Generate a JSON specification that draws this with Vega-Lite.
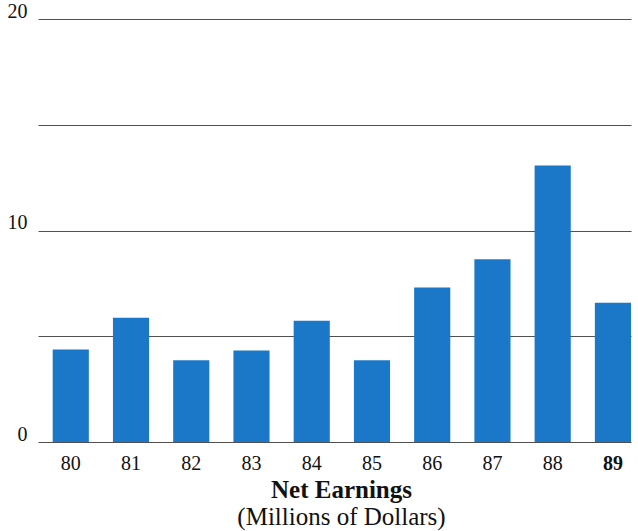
{
  "$schema": "https://vega.github.io/schema/vega-lite/v6.json",
  "autosize": "none",
  "width": 593,
  "height": 423,
  "padding": {"left": 38, "top": 19, "right": 7, "bottom": 89},
  "background": "white",
  "data": {
    "values": [
      {"year": "80", "earnings": 4.37},
      {"year": "81", "earnings": 5.87},
      {"year": "82", "earnings": 3.87},
      {"year": "83", "earnings": 4.33},
      {"year": "84", "earnings": 5.73},
      {"year": "85", "earnings": 3.87},
      {"year": "86", "earnings": 7.31},
      {"year": "87", "earnings": 8.64},
      {"year": "88", "earnings": 13.07},
      {"year": "89", "earnings": 6.58}
    ]
  },
  "title": {
    "text": "Net Earnings",
    "subtitle": "(Millions of Dollars)",
    "orient": "bottom",
    "anchor": "middle",
    "dx": 7,
    "offset": 5,
    "font": "Liberation Serif",
    "fontSize": 25,
    "fontWeight": "bold",
    "color": "#111111",
    "subtitleFont": "Liberation Serif",
    "subtitleFontSize": 25,
    "subtitleFontWeight": "normal",
    "subtitleColor": "#111111",
    "subtitlePadding": 2
  },
  "mark": {"type": "bar", "color": "#1b78c9"},
  "encoding": {
    "x": {
      "field": "year",
      "type": "ordinal",
      "scale": {"paddingInner": 0.4, "paddingOuter": 0.122, "align": 1},
      "axis": {
        "title": null,
        "domain": false,
        "ticks": false,
        "labelAngle": 0,
        "labelPadding": 11,
        "labelFont": "Liberation Serif",
        "labelFontSize": 20,
        "labelColor": "#111111",
        "labelFontWeight": {"condition": {"test": "datum.value == '89'", "value": "bold"}, "value": "normal"}
      }
    },
    "y": {
      "field": "earnings",
      "type": "quantitative",
      "scale": {"domain": [0, 20], "nice": false},
      "axis": {
        "title": null,
        "values": [0, 5, 10, 15, 20],
        "labelExpr": "datum.value % 10 == 0 ? datum.label : ''",
        "domain": false,
        "ticks": false,
        "grid": true,
        "gridColor": "#505050",
        "gridWidth": 1,
        "gridOpacity": 1,
        "labelPadding": 11,
        "labelOffset": -2,
        "labelBaseline": "alphabetic",
        "labelFont": "Liberation Serif",
        "labelFontSize": 20,
        "labelColor": "#111111"
      }
    }
  },
  "config": {
    "view": {"stroke": null}
  }
}
